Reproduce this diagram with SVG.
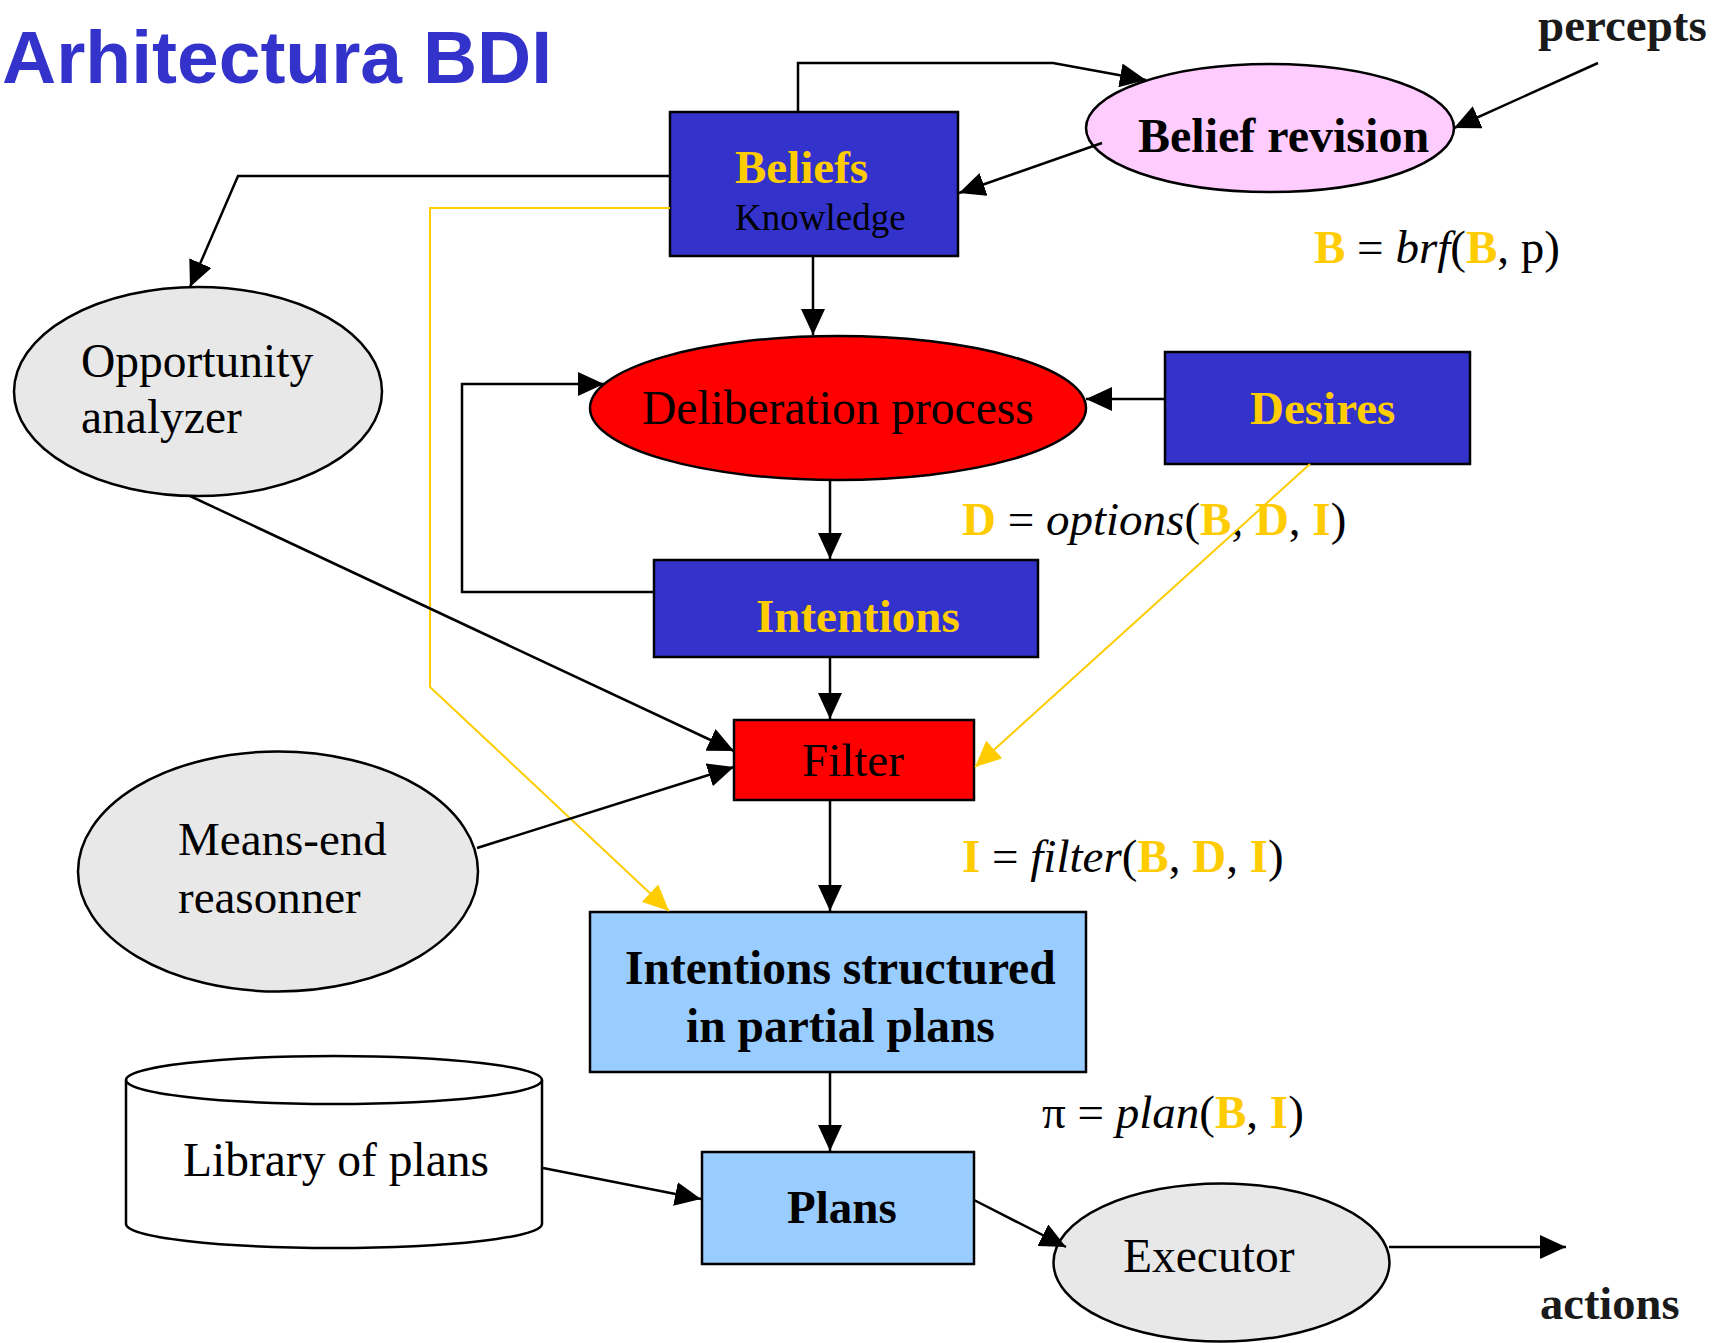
<svg xmlns="http://www.w3.org/2000/svg" width="1723" height="1343" viewBox="0 0 1723 1343">
  <defs>
    <marker id="ah" viewBox="0 0 26 24" refX="26" refY="12" markerWidth="26" markerHeight="24" markerUnits="userSpaceOnUse" orient="auto">
      <path d="M0,0 L26,12 L0,24 z" fill="#000"/>
    </marker>
    <marker id="ahy" viewBox="0 0 26 24" refX="26" refY="12" markerWidth="26" markerHeight="24" markerUnits="userSpaceOnUse" orient="auto">
      <path d="M0,0 L26,12 L0,24 z" fill="#FFCC00"/>
    </marker>
    <style>
      .t { font-family: "Liberation Serif", "Times New Roman", serif; font-size: 47px; fill: #000; }
      .b { font-weight: bold; }
      .y { fill: #FFCC00; font-weight: bold; }
      .i { font-style: italic; }
      .box { stroke: #000; stroke-width: 2.5; }
      .blue { fill: #3333CC; }
      .sky { fill: #99CCFF; }
      .red { fill: #FF0000; }
      .grey { fill: #E8E8E8; }
      .link { fill: none; stroke: #000; stroke-width: 2.5; marker-end: url(#ah); }
      .ylink { fill: none; stroke: #FFCC00; stroke-width: 2; marker-end: url(#ahy); }
    </style>
  </defs>
  <rect width="1723" height="1343" fill="#fff"/>

  <text x="2" y="83" font-family="Liberation Sans, Arial, sans-serif" font-weight="bold" font-size="75" fill="#3333CC">Arhitectura BDI</text>

  <!-- formulas -->
  <g id="formulas" class="t">
    <text x="1314" y="263"><tspan class="y">B</tspan> = <tspan class="i">brf</tspan>(<tspan class="y">B</tspan>, p)</text>
    <text x="962" y="535"><tspan class="y">D</tspan> = <tspan class="i">options</tspan>(<tspan class="y">B</tspan>, <tspan class="y">D</tspan>, <tspan class="y">I</tspan>)</text>
    <text x="962" y="872"><tspan class="y">I</tspan> = <tspan class="i">filter</tspan>(<tspan class="y">B</tspan>, <tspan class="y">D</tspan>, <tspan class="y">I</tspan>)</text>
    <text x="1042" y="1128">π = <tspan class="i">plan</tspan>(<tspan class="y">B</tspan>, <tspan class="y">I</tspan>)</text>
  </g>

  <g id="percepts"><text class="t b" x="1538" y="41" style="fill:#1a1a1a">percepts</text></g>
  <g id="actions"><text class="t b" x="1540" y="1319" style="fill:#1a1a1a;font-size:46.5px">actions</text></g>

  <g id="beliefs">
    <rect class="box blue" x="670" y="112" width="288" height="144"/>
    <text class="t y" x="735" y="183">Beliefs</text>
    <text class="t" x="735" y="230" style="font-size:37px">Knowledge</text>
  </g>

  <g id="belief-revision">
    <ellipse class="box" cx="1270" cy="128" rx="184" ry="64" fill="#FFCCFF"/>
    <text class="t b" x="1138" y="152" style="font-size:48px">Belief revision</text>
  </g>

  <g id="opportunity-analyzer">
    <ellipse class="box grey" cx="198" cy="391.5" rx="184" ry="104.5"/>
    <text class="t" x="81" y="377" style="font-size:47.5px">Opportunity</text>
    <text class="t" x="81" y="433" style="font-size:47.5px">analyzer</text>
  </g>

  <g id="deliberation">
    <ellipse class="box red" cx="838" cy="408" rx="248" ry="72"/>
    <text class="t" x="642" y="424" style="font-size:47.5px">Deliberation process</text>
  </g>

  <g id="desires">
    <rect class="box blue" x="1165" y="352" width="305" height="112"/>
    <text class="t y" x="1250" y="424">Desires</text>
  </g>

  <g id="intentions">
    <rect class="box blue" x="654" y="560" width="384" height="97"/>
    <text class="t y" x="756" y="632">Intentions</text>
  </g>

  <g id="filter">
    <rect class="box red" x="734" y="720" width="240" height="80"/>
    <text class="t" x="802" y="776">Filter</text>
  </g>

  <g id="means-end">
    <ellipse class="box grey" cx="278" cy="871.5" rx="200" ry="120"/>
    <text class="t" x="178" y="855">Means-end</text>
    <text class="t" x="178" y="913">reasonner</text>
  </g>

  <g id="structured">
    <rect class="box sky" x="590" y="912" width="496" height="160"/>
    <text class="t b" x="625" y="984" style="font-size:47.5px">Intentions structured</text>
    <text class="t b" x="686" y="1042" style="font-size:47.5px">in partial plans</text>
  </g>

  <g id="library">
    <path class="box" d="M126,1080 V1224 A208,24 0 0 0 542,1224 V1080" fill="#fff"/>
    <ellipse class="box" cx="334" cy="1080" rx="208" ry="24" fill="#fff"/>
    <text class="t" x="183" y="1176" style="font-size:47.5px">Library of plans</text>
  </g>

  <g id="plans">
    <rect class="box sky" x="702" y="1152" width="272" height="112"/>
    <text class="t b" x="787" y="1223">Plans</text>
  </g>

  <g id="executor">
    <ellipse class="box grey" cx="1221.5" cy="1262.5" rx="168" ry="79"/>
    <text class="t" x="1123" y="1272" style="font-size:47.5px">Executor</text>
  </g>

  <!-- connectors -->
  <g id="connectors">
    <path class="link" d="M798,112 V63 H1053 L1146,80"/>
    <path class="link" d="M1598,63 L1454,128"/>
    <path class="link" d="M1102,143 L959,193"/>
    <path class="link" d="M670,176 H238 L190,287"/>
    <path class="ylink" d="M670,208 H430 V687 L669,911"/>
    <path class="link" d="M813,256 V335"/>
    <path class="link" d="M1165,399 H1086"/>
    <path class="link" d="M830,480 V559"/>
    <path class="link" d="M654,592 H462 V384 H604"/>
    <path class="link" d="M830,657 V719"/>
    <path class="link" d="M190,496 L734,751"/>
    <path class="link" d="M477,848 L734,767"/>
    <path class="ylink" d="M1310,464 L975,767"/>
    <path class="link" d="M830,800 V911"/>
    <path class="link" d="M830,1072 V1151"/>
    <path class="link" d="M543,1168 L701,1199"/>
    <path class="link" d="M974,1200 L1066,1247"/>
    <path class="link" d="M1389,1247 H1566"/>
  </g>
</svg>
